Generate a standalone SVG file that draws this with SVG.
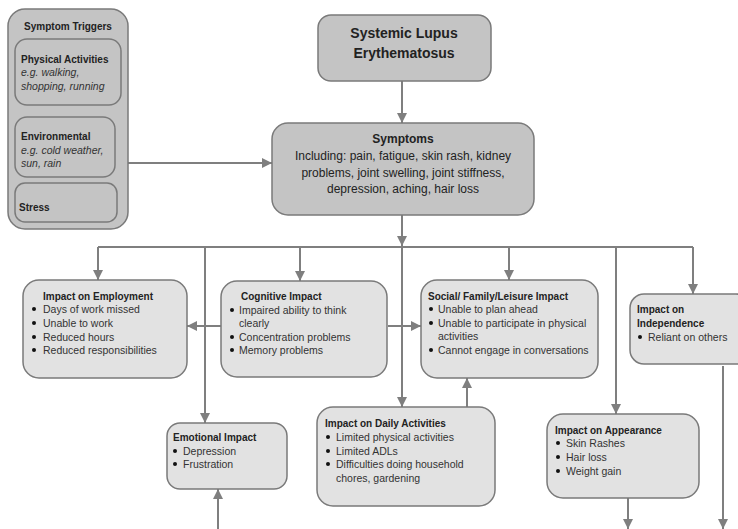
<svg xmlns="http://www.w3.org/2000/svg" width="738" height="529" viewBox="0 0 738 529">
<defs>
<style>
.dark{fill:#c4c4c4;stroke:#7a7a7a;stroke-width:1.5}
.light{fill:#e2e2e2;stroke:#7a7a7a;stroke-width:1.5}
.c{stroke:#7f7f7f;stroke-width:2;fill:none}
.ca{stroke:#7f7f7f;stroke-width:2;fill:none;marker-end:url(#ah)}
text{font-family:"Liberation Sans",Arial,sans-serif;fill:#222}
.t{font-size:10px;font-weight:bold}
.b{font-size:10.5px;fill:#333}
.i{font-size:10.5px;font-style:italic;fill:#333}
.s{font-size:12px;fill:#222}
.big{font-size:14px;font-weight:bold}
.dot{fill:#111}
</style>
<marker id="ah" viewBox="0 0 10 10" refX="10" refY="5" markerWidth="5" markerHeight="5" orient="auto" markerUnits="strokeWidth">
<path d="M0,0 L10,5 L0,10 z" fill="#7f7f7f"/>
</marker>
</defs>

<g id="connectors">
<line class="ca" x1="128" y1="163" x2="272" y2="163"/>
<line class="ca" x1="402" y1="81" x2="402" y2="123"/>
<line class="ca" x1="402" y1="215" x2="402" y2="246"/>
<line class="c" x1="98" y1="247" x2="693" y2="247"/>
<line class="ca" x1="98" y1="247" x2="98" y2="280"/>
<line class="ca" x1="205" y1="247" x2="205" y2="423"/>
<line class="ca" x1="300" y1="247" x2="300" y2="281"/>
<line class="ca" x1="402" y1="247" x2="402" y2="407"/>
<line class="ca" x1="509" y1="247" x2="509" y2="280"/>
<line class="ca" x1="616" y1="247" x2="616" y2="414"/>
<line class="ca" x1="693" y1="247" x2="693" y2="294"/>
<line class="ca" x1="221" y1="326" x2="187" y2="326"/>
<line class="ca" x1="388" y1="326" x2="421" y2="326"/>
<line class="ca" x1="467" y1="407" x2="467" y2="378"/>
<line class="ca" x1="218" y1="529" x2="218" y2="489"/>
<line class="ca" x1="628" y1="498" x2="628" y2="529"/>
<line class="ca" x1="723" y1="366" x2="723" y2="529"/>
</g>

<g id="triggers">
<rect class="dark" x="8" y="9" width="120" height="220" rx="17"/>
<text class="t" x="68" y="30" text-anchor="middle">Symptom Triggers</text>
<g id="physical">
<rect class="dark" x="15" y="39" width="106" height="66" rx="12"/>
<text class="t" x="21" y="63">Physical Activities</text>
<text class="i" x="21" y="76">e.g. walking,</text>
<text class="i" x="21" y="90">shopping, running</text>
</g>
<g id="environmental">
<rect class="dark" x="15" y="117" width="100" height="60" rx="12"/>
<text class="t" x="21" y="140">Environmental</text>
<text class="i" x="21" y="154">e.g. cold weather,</text>
<text class="i" x="21" y="167">sun, rain</text>
</g>
<g id="stress">
<rect class="dark" x="15" y="183" width="102" height="39" rx="10"/>
<text class="t" x="19" y="211">Stress</text>
</g>
</g>

<g id="sle">
<rect class="dark" x="318" y="15" width="173" height="66" rx="13"/>
<text class="big" x="404" y="38" text-anchor="middle">Systemic Lupus</text>
<text class="big" x="404" y="58" text-anchor="middle">Erythematosus</text>
</g>

<g id="symptoms">
<rect class="dark" x="272" y="123" width="262" height="92" rx="16"/>
<text class="s" x="403" y="143" text-anchor="middle" font-weight="bold">Symptoms</text>
<text class="s" x="403" y="160" text-anchor="middle">Including: pain, fatigue, skin rash, kidney</text>
<text class="s" x="403" y="177" text-anchor="middle">problems, joint swelling, joint stiffness,</text>
<text class="s" x="403" y="193" text-anchor="middle">depression, aching, hair loss</text>
</g>

<g id="employment">
<rect class="light" x="23" y="280" width="164" height="98" rx="16"/>
<text class="t" x="43" y="300">Impact on Employment</text>
<circle class="dot" cx="34" cy="309" r="2"/><text class="b" x="43" y="313">Days of work missed</text>
<circle class="dot" cx="34" cy="323" r="2"/><text class="b" x="43" y="327">Unable to work</text>
<circle class="dot" cx="34" cy="337" r="2"/><text class="b" x="43" y="341">Reduced hours</text>
<circle class="dot" cx="34" cy="350" r="2"/><text class="b" x="43" y="354">Reduced responsibilities</text>
</g>

<g id="cognitive">
<rect class="light" x="221" y="281" width="166" height="96" rx="16"/>
<text class="t" x="241" y="300">Cognitive Impact</text>
<circle class="dot" cx="232" cy="310" r="2"/><text class="b" x="239" y="314">Impaired ability to think</text>
<text class="b" x="239" y="327">clearly</text>
<circle class="dot" cx="232" cy="337" r="2"/><text class="b" x="239" y="341">Concentration problems</text>
<circle class="dot" cx="232" cy="350" r="2"/><text class="b" x="239" y="354">Memory problems</text>
</g>

<g id="social">
<rect class="light" x="421" y="280" width="177" height="98" rx="16"/>
<text class="t" x="428" y="300">Social/ Family/Leisure Impact</text>
<circle class="dot" cx="431" cy="309" r="2"/><text class="b" x="438" y="313">Unable to plan ahead</text>
<circle class="dot" cx="431" cy="323" r="2"/><text class="b" x="438" y="327">Unable to participate in physical</text>
<text class="b" x="438" y="340">activities</text>
<circle class="dot" cx="431" cy="350" r="2"/><text class="b" x="438" y="354">Cannot engage in conversations</text>
</g>

<g id="independence">
<rect class="light" x="630" y="294" width="120" height="70" rx="14"/>
<text class="t" x="637" y="313">Impact on</text>
<text class="t" x="637" y="327">Independence</text>
<circle class="dot" cx="640" cy="337" r="2"/><text class="b" x="648" y="341">Reliant on others</text>
</g>

<g id="emotional">
<rect class="light" x="167" y="423" width="120" height="66" rx="13"/>
<text class="t" x="173" y="441">Emotional Impact</text>
<circle class="dot" cx="175" cy="451" r="2"/><text class="b" x="183" y="455">Depression</text>
<circle class="dot" cx="175" cy="464" r="2"/><text class="b" x="183" y="468">Frustration</text>
</g>

<g id="daily">
<rect class="light" x="317" y="407" width="178" height="99" rx="16"/>
<text class="t" x="325" y="427">Impact on Daily Activities</text>
<circle class="dot" cx="328" cy="437" r="2"/><text class="b" x="336" y="441">Limited physical activities</text>
<circle class="dot" cx="328" cy="451" r="2"/><text class="b" x="336" y="455">Limited ADLs</text>
<circle class="dot" cx="328" cy="464" r="2"/><text class="b" x="336" y="468">Difficulties doing household</text>
<text class="b" x="336" y="482">chores, gardening</text>
</g>

<g id="appearance">
<rect class="light" x="547" y="414" width="152" height="84" rx="16"/>
<text class="t" x="555" y="434">Impact on Appearance</text>
<circle class="dot" cx="558" cy="443" r="2"/><text class="b" x="566" y="447">Skin Rashes</text>
<circle class="dot" cx="558" cy="457" r="2"/><text class="b" x="566" y="461">Hair loss</text>
<circle class="dot" cx="558" cy="471" r="2"/><text class="b" x="566" y="475">Weight gain</text>
</g>
</svg>
